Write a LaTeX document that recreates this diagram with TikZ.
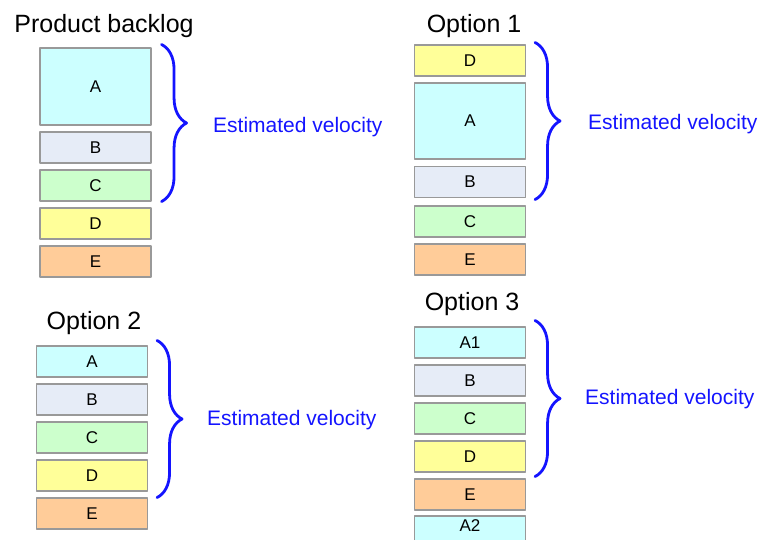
\documentclass[tikz,border=0pt]{standalone}
\usepackage{fontspec}
\setmainfont{Liberation Sans}
\usetikzlibrary{decorations.pathreplacing}
\definecolor{colA}{HTML}{CCFFFF}
\definecolor{colB}{HTML}{E6ECF7}
\definecolor{colC}{HTML}{CCFFCC}
\definecolor{colD}{HTML}{FFFF99}
\definecolor{colE}{HTML}{FFCC99}
\definecolor{velblue}{HTML}{1414FF}
\begin{document}
\begin{tikzpicture}[x=1pt, y=-1pt, line join=round, line cap=round,
  story/.style={draw=gray!80, line width=1.1pt, fill=#1, minimum width=111pt, minimum height=31pt, inner sep=0pt, font=\fontsize{17}{20}\selectfont},
  heading/.style={anchor=base, font=\fontsize{25}{30}\selectfont},
  velo/.style={anchor=base west, inner sep=0pt, text=velblue, font=\fontsize{21}{25}\selectfont},
  vbrace/.style={draw=velblue, line width=2.8pt, decorate, decoration={brace, amplitude=25pt}}]
\useasboundingbox (0,0) rectangle (760,539);
% Product backlog
\node[heading] (pbt) at (104,32) {Product backlog};
\node[story=colA, minimum height=77pt] (pbA) at (95.5,86.5) {A};
\node[story=colB] (pbB) at (95.5,147.5) {B};
\node[story=colC] (pbC) at (95.5,185.5) {C};
\node[story=colD] (pbD) at (95.5,223.5) {D};
\node[story=colE] (pbE) at (95.5,261.5) {E};
\draw[vbrace] ([xshift=10pt,yshift=3pt]pbA.north east) -- ([xshift=10pt]pbC.south east);
\node[velo] (pbv) at (213,132) {Estimated velocity};
% Option 1
\node[heading] (ot) at (474,32) {Option 1};
\node[story=colD] (oD) at (470,60.5) {D};
\node[story=colA, minimum height=76pt] (oA) at (470,121) {A};
\node[story=colB] (oB) at (470,182) {B};
\node[story=colC] (oC) at (470,221.5) {C};
\node[story=colE] (oE) at (470,259.5) {E};
\draw[vbrace] ([xshift=9pt,yshift=2pt]oD.north east) -- ([xshift=9pt,yshift=-1.5pt]oB.south east);
\node[velo] (ov) at (588,129) {Estimated velocity};
% Option 2
\node[heading] (tt) at (94,329.5) {Option 2};
\node[story=colA] (tA) at (92,361.5) {A};
\node[story=colB] (tB) at (92,399.5) {B};
\node[story=colC] (tC) at (92,437.5) {C};
\node[story=colD] (tD) at (92,475.5) {D};
\node[story=colE] (tE) at (92,513.5) {E};
\draw[vbrace] ([xshift=9pt,yshift=5pt]tA.north east) -- ([xshift=9pt,yshift=-6pt]tD.south east);
\node[velo] (tv) at (207,425.5) {Estimated velocity};
% Option 3
\node[heading] (ht) at (472,310.7) {Option 3};
\node[story=colA] (hA) at (470,342.5) {A1};
\node[story=colB] (hB) at (470,380.5) {B};
\node[story=colC] (hC) at (470,418.5) {C};
\node[story=colD] (hD) at (470,456.5) {D};
\node[story=colE] (hE) at (470,494.5) {E};
\node[story=colA] (hA2) at (470,531.5) {\raisebox{11pt}{A2}};
\draw[vbrace] ([xshift=9pt,yshift=6pt]hA.north east) -- ([xshift=9pt,yshift=-4pt]hD.south east);
\node[velo] (hv) at (585,404.5) {Estimated velocity};
\end{tikzpicture}
\end{document}
